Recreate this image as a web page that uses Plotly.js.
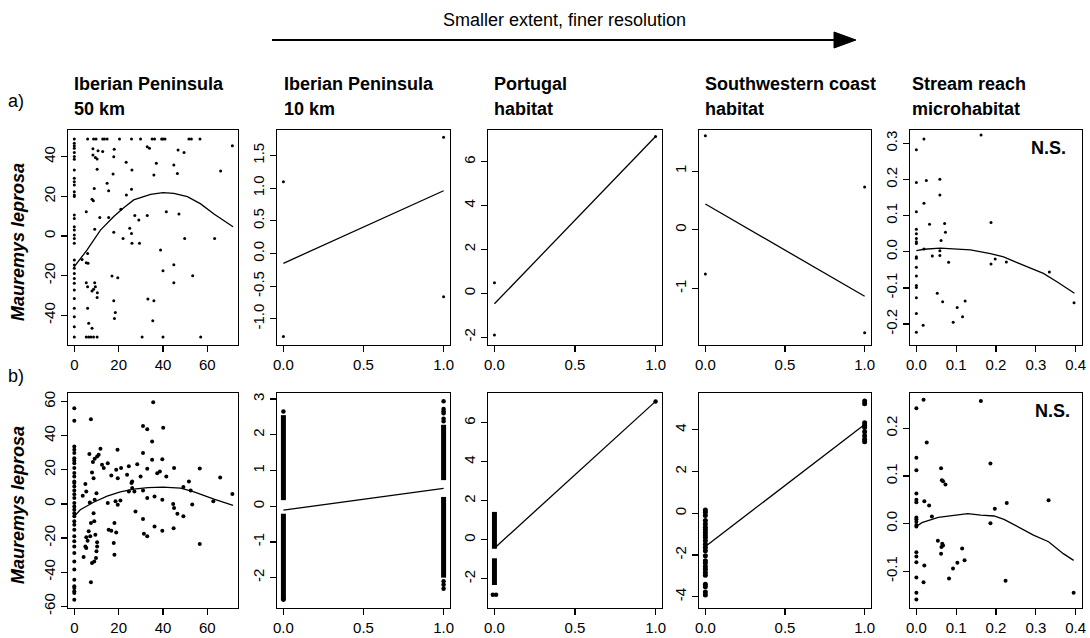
<!DOCTYPE html>
<html>
<head>
<meta charset="utf-8">
<script src="https://cdn.plot.ly/plotly-3.0.1.min.js"></script>
<style>html,body{margin:0;padding:0;background:#fff;}#chart{width:1090px;height:638px;}</style>
</head>
<body>
<div id="chart"></div>
<script>
// ---------------- DATA ----------------
const colTitles1 = ["Iberian Peninsula", "Iberian Peninsula", "Portugal", "Southwestern coast", "Stream reach"];
const colTitles2 = ["50 km", "10 km", "habitat", "habitat", "microhabitat"];
const rowLabels = ["a)", "b)"];
const yTitle = "Mauremys leprosa";
const arrowText = "Smaller extent, finer resolution";
const nsText = "N.S.";

// tick labels
const ticks50kmX = [0, 20, 40, 60];
const ticks50kmXText = ["0", "20", "40", "60"];
const ticksBinX = [0, 0.5, 1];
const ticksBinXText = ["0.0", "0.5", "1.0"];
const ticksMicroX = [0, 0.1, 0.2, 0.3, 0.4];
const ticksMicroXText = ["0.0", "0.1", "0.2", "0.3", "0.4"];

const a1TicksY = [-40, -20, 0, 20, 40];
const a2TicksY = [-1, -0.5, 0, 0.5, 1, 1.5];
const a2TicksYText = ["-1.0", "-0.5", "0.0", "0.5", "1.0", "1.5"];
const a3TicksY = [-2, 0, 2, 4, 6];
const a4TicksY = [-1, 0, 1];
const a5TicksY = [-0.2, -0.1, 0, 0.1, 0.2, 0.3];
const a5TicksYText = ["-0.2", "-0.1", "0.0", "0.1", "0.2", "0.3"];
const b1TicksY = [-60, -40, -20, 0, 20, 40, 60];
const b2TicksY = [-2, -1, 0, 1, 2, 3];
const b3TicksY = [-2, 0, 2, 4, 6];
const b4TicksY = [-4, -2, 0, 2, 4];
const b5TicksY = [-0.1, 0, 0.1, 0.2];
const b5TicksYText = ["-0.1", "0.0", "0.1", "0.2"];

// axis ranges
const a1RangeX = [-2.84, 73.84], a1RangeY = [-55, 53.5];
const binRangeX = [-0.04, 1.04];
const microRangeX = [-0.016, 0.416];
const a2RangeY = [-1.40, 1.89];
const a3RangeY = [-2.36, 7.45];
const a4RangeY = [-1.96, 1.70];
const a5RangeY = [-0.258, 0.337];
const b1RangeY = [-61, 65];
const b2RangeY = [-2.85, 3.17];
const b3RangeY = [-3.5, 7.53];
const b4RangeY = [-4.54, 5.76];
const b5RangeY = [-0.177, 0.274];

// a) Iberian Peninsula 50 km
const a1X = [0,6,8.7,9.8,12.8,13.6,14.8,20.4,25.8,29.9,35.1,36.2,39.4,40,40.9,51.7,52.8,56.7,
  0,5.4,6.5,7.5,8.7,10.3,30.6,40,57,
  0,0,0,0,0,0,0,0,0,0,0,0,0,0,0,0,0,0,0,0,0,0,0,0,0,0,0,0,0,0,0,
  5.4,6,6.2,8.4,10.7,12.8,8.4,9.5,10.3,10.3,9,8,8.6,9.2,11.5,15.5,14.8,15.5,18,17.8,17.5,21,17.8,22,23.5,25.8,26,23.4,25,25.8,26,29.4,27.3,29.1,32.9,17,19.6,5.4,6,9.2,9.5,8,8.7,10.4,10.3,6,6.5,8,17.8,18.5,18.1,32.9,33.9,37,35.9,38.9,40,41.5,44.9,46.5,46.8,49.5,47.2,44.9,44.9,49.8,53.4,33.2,35.9,35.4,63.3,66,71.3,3.5,5.4];
const a1Y = [49,49,49,49,49,49,49,49,49,49,49,49,49,49,49,49,49,49,
  -51,-51,-51,-51,-51,-51,-51,-51,-51,
  46.8,45.5,44.3,42.1,40.1,38.7,33.3,29.1,27.4,25.8,22.4,20.7,19.9,10.6,8.9,4.7,3.0,0.5,-1.2,-3.7,-12.1,-14.6,-16.3,-18.9,-21.4,-23.9,-27.3,-31.5,-36.5,-40.7,-45.8,
  12.3,-8.8,-13.8,44,43,42.6,40.9,39.6,38.9,33.7,24,18.5,17.8,3.4,9.4,9.4,26.6,22.9,43.8,40,31.3,13.5,1.9,-1.2,20.7,23.6,33.3,37.2,3.9,1.3,-3.7,-3.7,10.3,8.1,10.3,-20.2,-21,-23.6,-25.6,-23.6,-25.6,-27.8,-26.9,-28.6,-31,-36.5,-44,-46.6,-32.7,-38.6,-41.6,45.1,44.3,36.7,30.8,-7.1,-17.5,12.3,35.9,31.6,43.4,42.1,11.1,-14.5,-23.6,-1.2,-20,-31.8,-32.7,-42.8,-1.2,32.8,45.5,-11.8,-13.5];
const a1LineX = [0,5.7,11.8,17.8,22.3,26.8,34.4,40,44.9,51,57,63,71.6];
const a1LineY = [-15.5,-7.1,3.0,9.8,14.3,18.2,21,21.9,21.5,19.9,16.2,11.1,4.7];

// a) Iberian Peninsula 10 km
const a2X = [0, 0, 1, 1];
const a2Y = [1.10, -1.27, 1.78, -0.66];
const a2LineX = [0, 1];
const a2LineY = [-0.15, 0.96];

// a) Portugal habitat
const a3X = [0, 0, 1];
const a3Y = [0.48, -1.9, 7.15];
const a3LineX = [0, 1];
const a3LineY = [-0.48, 7.15];

// a) Southwestern coast habitat
const a4X = [0, 0, 1, 1];
const a4Y = [1.60, -0.75, 0.73, -1.75];
const a4LineX = [0, 1];
const a4LineY = [0.44, -1.13];

// a) Stream reach microhabitat
const a5X = [0,0.019,0,0.025,0.019,0,0.059,0.059,0.1625,0,0.033,0.071,0.073,0,0,0,0,0.062,0.019,0.059,0.1875,0,0.04,0.059,0,0.081,0.1875,0.198,0.226,0.334,0,0,0,0,0.0525,0,0.066,0.1225,0.1025,0.116,0.0925,0.017,0,0,0.396];
const a5Y = [0.282,0.312,0.192,0.197,0.134,0.111,0.201,0.157,0.323,0.062,0.076,0.078,0.054,0.05,0.037,0.028,0.023,0.031,0.008,0.003,0.081,-0.014,-0.012,-0.010,-0.018,-0.029,-0.034,-0.020,-0.028,-0.056,-0.043,-0.067,-0.093,-0.099,-0.115,-0.127,-0.138,-0.136,-0.154,-0.180,-0.195,-0.203,-0.171,-0.223,-0.141];
const a5LineX = [0,0.019,0.06,0.10,0.136,0.186,0.219,0.253,0.286,0.319,0.353,0.397];
const a5LineY = [0.003,0.007,0.010,0.007,0.005,-0.005,-0.014,-0.030,-0.045,-0.060,-0.083,-0.115];

// b) Iberian Peninsula 50 km
const b1X = [0,0,0,0,0,0,0,0,0,0,0,0,0,0,0,0,0,0,0,0,0,0,0,0,0,0,0,0,0,0,0,0,0,0,0,0,0,
  7.5,6.8,10.3,11,11.8,9.2,8.4,13.3,12.5,15.1,16.7,18.9,19.5,19.6,21.1,23.8,24.6,28.4,26.1,25.8,29.9,31,31,32.9,35.1,31,32.9,31.4,36.2,32.9,36.2,31,32.9,35.6,35.1,40.1,39.7,39.7,39.7,37.4,38.6,41.5,45,44.6,45,44.8,46.5,49.2,49.2,51.7,53.2,52.5,56.6,56.6,62.7,65.8,71.3,
  3.8,5,5.4,7,9.2,10,8.7,8,8.7,9,7.5,7.2,6.5,5.4,5,5.4,6,9.5,10.3,10.3,10,9.8,9,8,7.5,4.2,15.1,15.5,16.7,18.1,18.9,17.8,18.1,18.6,19.6,20.8,27.6,24.6,26.1,27.1];
const b1Y = [56.1,48.7,33.7,31.7,29.8,26.8,25.4,23.9,21,18.1,16.1,13.2,12.2,10.2,7.9,5.7,3.4,0.5,-1.5,-3.4,-5.4,-7.3,-10.2,-12.2,-15.1,-19,-21.9,-24.9,-28.8,-33.7,-38.5,-44.4,-48.3,-49.3,-51.2,-52.2,-56.1,
  49.6,29.2,27.8,28.8,32.3,26.4,24.5,21,22.9,23.9,16.7,20,31.7,15.1,21,17.1,22,23.3,13.2,12.2,16.1,7.9,29.8,20.6,25.9,-8.9,-19,-17.5,-13.2,3.4,4.4,45.7,43.8,59.6,36.6,44.6,26.2,2.4,-15.7,18,19,16.1,21,0,-2.4,-14.3,-5.8,-7.3,9.9,13.2,-0.3,7.9,20.8,-23.5,1.5,15.5,5.8,
  4.8,11.6,7.3,0.9,2.4,6.3,15.1,18.4,-5.4,-10.2,-11.2,-19,-16,-19.6,-24.9,-25.8,-21.6,-18,-22.5,-24.9,-27.8,-31.7,-33.7,-34.6,-45.9,-31.1,0.5,-15.1,-15.7,-11.2,-16.7,-22.9,-29.8,1.5,-0.5,2,-4.4,7.3,9.3,7.3];
const b1LineX = [0,2.7,8.7,14.8,20.8,26.8,33.2,40,48,54,63,71.6];
const b1LineY = [-7.3,-3.4,1,4.5,7,8.7,9.5,9.8,9.3,7,2.8,-0.9];

// b) Iberian Peninsula 10 km  (dense columns read as continuous bands)
const b2BandX = [0, 0, 1, 1];
const b2BandLo = [0.17, -2.64, 0.73, -2.0];
const b2BandHi = [2.55, -0.21, 2.28, 0.26];
const b2X = [0, 0, 1, 1, 1, 1, 1, 1, 1, 1, 1];
const b2Y = [2.65, -2.62, 2.94, 2.72, 2.66, 2.6, 2.45, 2.38, -2.1, -2.2, -2.31];
const b2LineX = [0, 1];
const b2LineY = [-0.11, 0.5];

// b) Portugal habitat
const b3BandX = [0, 0];
const b3BandLo = [-0.46, -2.32];
const b3BandHi = [1.43, -0.95];
const b3X = [-0.01, 0.01, 1];
const b3Y = [-2.82, -2.82, 7.10];
const b3LineX = [0, 1];
const b3LineY = [-0.43, 7.10];

// b) Southwestern coast habitat
const b4X = [0,0,0,0,0,0,0,0,0,0,0,0,0,0,0,0,0,0,0,0,0,0,0,0,0, 1,1,1,1,1,1,1,1,1];
const b4Y = [0.16,0.05,-0.11,-0.35,-0.51,-0.67,-0.79,-0.91,-1.04,-1.16,-1.32,-1.48,-1.64,-1.80,-2.04,-2.28,-2.39,-2.55,-2.68,-2.84,-2.97,-3.40,-3.52,-3.77,-3.92,
  5.38,5.25,4.33,4.22,4.11,3.90,3.71,3.55,3.42];
const b4LineX = [0, 1];
const b4LineY = [-1.59, 4.25];

// b) Stream reach microhabitat
const b5X = [0.018,0,0.162,0.026,0,0,0.062,0.064,0.067,0.073,0.186,0,0,0,0.02,0.032,0.332,0.227,0.197,0,0,0,0,0,0.039,0.186,0.054,0.065,0.067,0.063,0.062,0,0,0,0.02,0.115,0.121,0.103,0.092,0,0.018,0.082,0.224,0,0,0.395];
const b5Y = [0.26,0.242,0.257,0.170,0.138,0.112,0.116,0.091,0.089,0.082,0.126,0.063,0.05,0.045,0.047,0.038,0.049,0.043,0.031,0.013,0.009,0.004,-0.003,-0.006,0.015,0.001,-0.036,-0.042,-0.046,-0.049,-0.063,-0.06,-0.069,-0.081,-0.088,-0.052,-0.077,-0.082,-0.094,-0.113,-0.123,-0.115,-0.12,-0.145,-0.159,-0.145];
const b5LineX = [0,0.014,0.055,0.096,0.129,0.162,0.195,0.22,0.261,0.294,0.332,0.369,0.395];
const b5LineY = [-0.006,0.002,0.013,0.018,0.021,0.018,0.016,0.009,-0.010,-0.024,-0.038,-0.063,-0.077];

// ---------------- LAYOUT GEOMETRY (pixels of the 1090x638 page) ----------------
const W = 1090, H = 638;
const colPx = [[68, 238], [277, 450], [488, 662], [699, 871], [910, 1082]];
const rowPx = [[130, 345], [393, 608]];
const fx = p => p / W;
const fy = p => 1 - p / H;

const tickFont = {family: "'Liberation Sans Narrow', 'Arial Narrow', 'Liberation Sans', Arial, sans-serif", size: 15, color: '#000'};
const titleFamily = "'Liberation Sans', Arial, Helvetica, sans-serif";

const panels = [
  {xr: a1RangeX, yr: a1RangeY, xt: ticks50kmX, xtt: ticks50kmXText, yt: a1TicksY, ytt: a1TicksY.map(String), px: a1X, py: a1Y, lx: a1LineX, ly: a1LineY, ms: 3},
  {xr: binRangeX, yr: a2RangeY, xt: ticksBinX, xtt: ticksBinXText, yt: a2TicksY, ytt: a2TicksYText, px: a2X, py: a2Y, lx: a2LineX, ly: a2LineY, ms: 3},
  {xr: binRangeX, yr: a3RangeY, xt: ticksBinX, xtt: ticksBinXText, yt: a3TicksY, ytt: a3TicksY.map(String), px: a3X, py: a3Y, lx: a3LineX, ly: a3LineY, ms: 3},
  {xr: binRangeX, yr: a4RangeY, xt: ticksBinX, xtt: ticksBinXText, yt: a4TicksY, ytt: a4TicksY.map(String), px: a4X, py: a4Y, lx: a4LineX, ly: a4LineY, ms: 3},
  {xr: microRangeX, yr: a5RangeY, xt: ticksMicroX, xtt: ticksMicroXText, yt: a5TicksY, ytt: a5TicksYText, px: a5X, py: a5Y, lx: a5LineX, ly: a5LineY, ms: 3},
  {xr: a1RangeX, yr: b1RangeY, xt: ticks50kmX, xtt: ticks50kmXText, yt: b1TicksY, ytt: b1TicksY.map(String), px: b1X, py: b1Y, lx: b1LineX, ly: b1LineY, ms: 4},
  {xr: binRangeX, yr: b2RangeY, xt: ticksBinX, xtt: ticksBinXText, yt: b2TicksY, ytt: b2TicksY.map(String), px: b2X, py: b2Y, lx: b2LineX, ly: b2LineY, ms: 4.5,
    bx: b2BandX, blo: b2BandLo, bhi: b2BandHi},
  {xr: binRangeX, yr: b3RangeY, xt: ticksBinX, xtt: ticksBinXText, yt: b3TicksY, ytt: b3TicksY.map(String), px: b3X, py: b3Y, lx: b3LineX, ly: b3LineY, ms: 4.5,
    bx: b3BandX, blo: b3BandLo, bhi: b3BandHi},
  {xr: binRangeX, yr: b4RangeY, xt: ticksBinX, xtt: ticksBinXText, yt: b4TicksY, ytt: b4TicksY.map(String), px: b4X, py: b4Y, lx: b4LineX, ly: b4LineY, ms: 5},
  {xr: microRangeX, yr: b5RangeY, xt: ticksMicroX, xtt: ticksMicroXText, yt: b5TicksY, ytt: b5TicksYText, px: b5X, py: b5Y, lx: b5LineX, ly: b5LineY, ms: 4}
];

const traces = [];
const layout = {
  width: W, height: H,
  margin: {l: 0, r: 0, t: 0, b: 0},
  paper_bgcolor: '#fff', plot_bgcolor: '#fff',
  showlegend: false,
  annotations: [], shapes: []
};

panels.forEach((p, i) => {
  const n = i + 1;
  const xa = n === 1 ? 'x' : 'x' + n;
  const ya = n === 1 ? 'y' : 'y' + n;
  const col = i % 5, row = Math.floor(i / 5);
  const axBase = {
    showline: true, mirror: true, linecolor: '#000', linewidth: 1.4,
    ticks: 'outside', ticklen: 6, tickwidth: 1.2, tickcolor: '#000',
    showgrid: false, zeroline: false, tickfont: tickFont, fixedrange: true
  };
  layout['xaxis' + (n === 1 ? '' : n)] = Object.assign({}, axBase, {
    domain: [fx(colPx[col][0]), fx(colPx[col][1])], range: p.xr,
    tickmode: 'array', tickvals: p.xt, ticktext: p.xtt, anchor: ya
  });
  layout['yaxis' + (n === 1 ? '' : n)] = Object.assign({}, axBase, {
    domain: [fy(rowPx[row][1]), fy(rowPx[row][0])], range: p.yr,
    tickmode: 'array', tickvals: p.yt, ticktext: p.ytt, tickangle: -90, anchor: xa
  });
  if (p.bx) {
    const bxs = [], bys = [];
    p.bx.forEach((x, k) => { bxs.push(x, x, null); bys.push(p.blo[k], p.bhi[k], null); });
    traces.push({x: bxs, y: bys, xaxis: xa, yaxis: ya, mode: 'lines', type: 'scatter',
      line: {color: '#000', width: 5}, hoverinfo: 'skip'});
  }
  traces.push({x: p.px, y: p.py, xaxis: xa, yaxis: ya, mode: 'markers', type: 'scatter',
    marker: {color: '#000', size: p.ms, symbol: 'circle'}, hoverinfo: 'skip', cliponaxis: false});
  traces.push({x: p.lx, y: p.ly, xaxis: xa, yaxis: ya, mode: 'lines', type: 'scatter',
    line: {color: '#000', width: 1.3}, hoverinfo: 'skip'});
});

// column titles
const titleX = [72, 282, 492, 703, 910];
colTitles1.forEach((t, k) => {
  layout.annotations.push({text: t, xref: 'paper', yref: 'paper', x: fx(titleX[k]), y: fy(84),
    xanchor: 'left', yanchor: 'middle', showarrow: false,
    font: {family: titleFamily, size: 18, color: '#000', weight: 'bold'}});
  layout.annotations.push({text: colTitles2[k], xref: 'paper', yref: 'paper', x: fx(titleX[k]), y: fy(109),
    xanchor: 'left', yanchor: 'middle', showarrow: false,
    font: {family: titleFamily, size: 18, color: '#000', weight: 'bold'}});
});
// row labels
[[101], [376]].forEach((v, k) => {
  layout.annotations.push({text: rowLabels[k], xref: 'paper', yref: 'paper', x: fx(6), y: fy(v[0]),
    xanchor: 'left', yanchor: 'middle', showarrow: false,
    font: {family: titleFamily, size: 18, color: '#000'}});
});
// y titles
[242, 505].forEach(v => {
  layout.annotations.push({text: '<b><i>' + yTitle + '</i></b>', xref: 'paper', yref: 'paper', x: fx(18), y: fy(v),
    xanchor: 'center', yanchor: 'middle', textangle: -90, showarrow: false,
    font: {family: titleFamily, size: 18, color: '#000'}});
});
// N.S.
[[1048, 148], [1052, 411]].forEach(v => {
  layout.annotations.push({text: nsText, xref: 'paper', yref: 'paper', x: fx(v[0]), y: fy(v[1]),
    xanchor: 'center', yanchor: 'middle', showarrow: false,
    font: {family: titleFamily, size: 18, color: '#000', weight: 'bold'}});
});
// arrow and its label
layout.annotations.push({text: arrowText, xref: 'paper', yref: 'paper', x: fx(564), y: fy(20),
  xanchor: 'center', yanchor: 'middle', showarrow: false,
  font: {family: titleFamily, size: 18, color: '#000'}});
layout.shapes.push({type: 'line', xref: 'paper', yref: 'paper', x0: fx(272), x1: fx(840), y0: fy(40), y1: fy(40),
  line: {color: '#000', width: 2}});
layout.shapes.push({type: 'path', xref: 'paper', yref: 'paper',
  path: `M ${fx(834)},${fy(32)} L ${fx(856)},${fy(40)} L ${fx(834)},${fy(48)} Z`,
  fillcolor: '#000', line: {color: '#000', width: 1}});

Plotly.newPlot('chart', traces, layout, {staticPlot: true, displayModeBar: false});
</script>
</body>
</html>
